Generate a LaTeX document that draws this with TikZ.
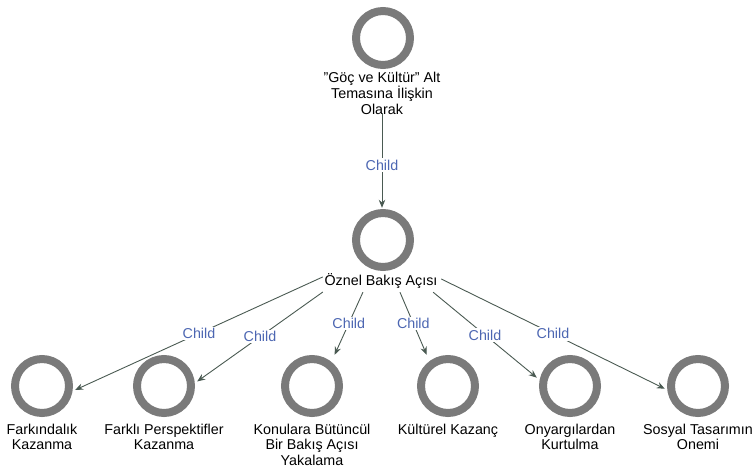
\documentclass[tikz,border=0pt]{standalone}
\usepackage{fontspec}
\setmainfont{Liberation Sans}
\usetikzlibrary{arrows.meta}
\definecolor{ringgray}{RGB}{122,122,122}
\definecolor{edgecol}{RGB}{74,90,82}
\definecolor{tagblue}{RGB}{76,102,178}

\begin{document}
\begin{tikzpicture}[x=1pt,y=-1pt,
  ringnode/.style={circle,draw=ringgray,line width=8pt,minimum size=54pt,inner sep=0pt},
  caption/.style={anchor=north,align=center,inner sep=0pt,font=\fontsize{14.3}{15.8}\selectfont},
  hitbox/.style={rectangle,inner sep=0pt,draw=none},
  link/.style={draw=edgecol,line width=0.9pt,-{Stealth[length=8pt,width=6.5pt]}},
  tag/.style={font=\fontsize{14.3}{16}\selectfont,text=tagblue,fill=white,inner sep=1.5pt}
]
\useasboundingbox (0,0) rectangle (753,469);

% root
\node[ringnode] (rootc) at (383,38) {};
\node[caption] (roott) at (382,72) {"Göç ve Kültür" Alt\\Temasına İlişkin\\Olarak};
\node[hitbox,minimum width=66pt,minimum height=108pt] (root) at (382,59) {};

% middle
\node[ringnode] (midc) at (383,240) {};
\node[caption] (midt) at (381,273) {Öznel Bakış Açısı};
\node[hitbox,minimum width=118pt,minimum height=84pt] (mid) at (382,250) {};

% leaves
\foreach \nm/\x/\txt in {
  fk/42/{Farkındalık\\Kazanma},
  fp/164/{Farklı Perspektifler\\Kazanma},
  kb/312/{Konulara Bütüncül\\Bir Bakış Açısı\\Yakalama},
  kk/448/{Kültürel Kazanç},
  ok/570/{Onyargılardan\\Kurtulma},
  st/698/{Sosyal Tasarımın\\Onemi}} {
  \node[ringnode] (\nm c) at (\x,386) {};
  \node[caption] (\nm t) at (\x,423.5) {\txt};
  \node[hitbox,minimum width=66pt,minimum height=100pt] (\nm) at (\x,405) {};
}

% connectors
\draw[link] (root) -- node[tag,pos=0.55] {Child} (mid);
\foreach \nm in {fk,fp,kb,kk,ok,st}
  \draw[link] (mid) -- node[tag] {Child} (\nm);
\end{tikzpicture}
\end{document}
